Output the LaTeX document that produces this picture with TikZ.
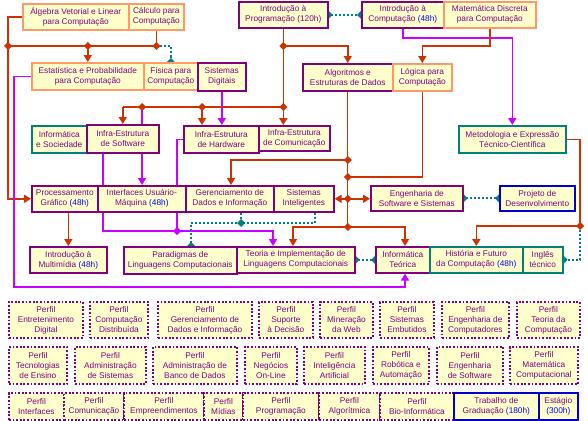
\documentclass[tikz,border=0pt]{standalone}
\usepackage{fontspec}
\setmainfont{Liberation Sans}
\usetikzlibrary{arrows.meta}
\definecolor{fillc}{HTML}{FFFFCC}
\definecolor{pur}{HTML}{800080}
\definecolor{ora}{HTML}{FF9966}
\definecolor{tea}{HTML}{008080}
\definecolor{blu}{HTML}{0000CC}
\definecolor{rdc}{HTML}{CC3300}
\definecolor{mgc}{HTML}{CC00FF}
\definecolor{hblue}{HTML}{0000FF}
\pgfdeclarelayer{bg}\pgfsetlayers{bg,main}
\newcommand\bx[7]{\node[#6,anchor=north west,minimum width={#4-#2},minimum height={#5-#3}] (#1) at (#2,#3) {#7};}
\newcommand\hh[1]{\textcolor{hblue}{#1}}
\newcommand\jd[2]{\fill[#1] #2 +(0,-4) -- +(4,0) -- +(0,4) -- +(-4,0) -- cycle;}
\begin{document}
\begin{tikzpicture}[x=1pt,y=-1pt,
  font=\fontsize{8.3}{10}\selectfont,
  box/.style={draw,fill=fillc,line width=1.6pt,inner sep=0pt,align=center,text=pur},
  pb/.style={box,draw=pur},
  ob/.style={box,draw=ora},
  tb/.style={box,draw=tea},
  bb/.style={box,draw=blu},
  db/.style={box,draw=pur,line width=1.8pt,dash pattern=on 1.8pt off 1.8pt},
  rd/.style={draw=rdc,line width=1.6pt},
  rdt/.style={draw=rdc,line width=1pt},
  mg/.style={draw=mgc,line width=1.6pt},
  tl/.style={draw=tea,line width=2pt,dash pattern=on 2pt off 2pt},
  ar/.style={-{Triangle[width=8pt,length=7pt]}},
  tip/.style={-{Turned Square[width=8pt,length=8pt]},shorten >=-4pt},
  dd/.style={{Turned Square[width=8pt,length=8pt]}-{Turned Square[width=8pt,length=8pt]},shorten >=-4pt,shorten <=-4pt}]
\useasboundingbox (0,0) rectangle (588,420);
% top row
\bx{alg}{22}{3}{128}{29}{ob}{Álgebra Vetorial e Linear\\para Computação}
\bx{calc}{128}{3}{183}{29}{ob}{Cálculo para\\Computação}
\bx{iprog}{238}{1}{327}{27}{pb}{Introdução à\\Programação (120h)}
\bx{icomp}{361}{1}{443}{27}{pb}{Introdução à\\Computação \hh{(48h)}}
\bx{mdisc}{443}{1}{535}{27}{ob}{Matemática Discreta\\para Computação}
% row 2
\bx{estat}{31}{62}{143}{89}{ob}{Estatística e Probabilidade\\para Computação}
\bx{fis}{143}{62}{197}{89}{ob}{Física para\\Computação}
\bx{sdig}{197}{62}{245}{90}{pb}{Sistemas\\Digitais}
\bx{algo}{302}{63}{392}{90}{pb}{Algoritmos e\\Estruturas de Dados}
\bx{logi}{392}{63}{451}{90}{ob}{Lógica para\\Computação}
% row 3
\bx{isoc}{31}{125}{86}{152}{tb}{Informática\\e Sociedade}
\bx{isw}{86}{124}{158}{152}{pb}{Infra-Estrutura\\de Software}
\bx{ihw}{183}{125}{258}{152}{pb}{Infra-Estrutura\\de Hardware}
\bx{icom}{258}{125}{329}{150}{pb}{Infra-Estrutura\\de Comunicação}
\bx{meto}{458}{125}{565}{152}{tb}{Metodologia e Expressão\\Técnico-Científica}
% row 4
\bx{pgraf}{31}{185}{97}{211}{pb}{Processamento\\Gráfico \hh{(48h)}}
\bx{iface}{97}{185}{185}{211}{pb}{Interfaces Usuário-\\Máquina \hh{(48h)}}
\bx{gdados}{185}{185}{273}{211}{pb}{Gerenciamento de\\Dados e Informação}
\bx{sint}{273}{185}{333}{211}{pb}{Sistemas\\Inteligentes}
\bx{engsw}{370}{185}{462}{210}{pb}{Engenharia de\\Software e Sistemas}
\bx{proj}{499}{185}{574}{210}{bb}{Projeto de\\Desenvolvimento}
% row 5
\bx{mult}{29}{246}{106}{272}{pb}{Introdução à\\Multimídia \hh{(48h)}}
\bx{parad}{123}{246}{236}{273}{pb}{Paradigmas de\\Linguagens Computacionais}
\bx{teoria}{236}{246}{354}{272}{pb}{Teoria e Implementação de\\Linguagens Computacionais}
\bx{infteo}{375}{246}{429}{272}{pb}{Informática\\Teórica}
\bx{hist}{429}{246}{522}{272}{tb}{História e Futuro\\da Computação \hh{(48h)}}
\bx{ingl}{522}{246}{562}{272}{tb}{Inglês\\técnico}
% profiles row A
\bx{pent}{8}{301}{82}{337}{db}{Perfil\\Entretenimento\\Digital}
\bx{pcd}{89}{301}{147}{337}{db}{Perfil\\Computação\\Distribuída}
\bx{pgd}{157}{301}{251}{337}{db}{Perfil\\Gerenciamento de\\Dados e Informação}
\bx{psup}{258}{301}{312}{337}{db}{Perfil\\Suporte\\à Decisão}
\bx{pmin}{319}{301}{372}{337}{db}{Perfil\\Mineração\\da Web}
\bx{pemb}{379}{301}{433}{337}{db}{Perfil\\Sistemas\\Embutidos}
\bx{pec}{441}{301}{508}{337}{db}{Perfil\\Engenharia de\\Computadores}
\bx{ptc}{516}{301}{579}{337}{db}{Perfil\\Teoria da\\Computação}
% profiles row B
\bx{pten}{8}{346}{66}{383}{db}{Perfil\\Tecnologias\\de Ensino}
\bx{pads}{74}{346}{145}{383}{db}{Perfil\\Administração\\de Sistemas}
\bx{pabd}{152}{346}{236}{383}{db}{Perfil\\Administração de\\Banco de Dados}
\bx{pneg}{244}{346}{296}{383}{db}{Perfil\\Negócios\\On-Line}
\bx{pia}{303}{346}{364}{383}{db}{Perfil\\Inteligência\\Artificial}
\bx{prob}{372}{346}{428}{383}{db}{Perfil\\Robótica e\\Automação}
\bx{pes}{436}{346}{502}{383}{db}{Perfil\\Engenharia\\de Software}
\bx{pmc}{509}{346}{577}{383}{db}{Perfil\\Matemática\\Computacional}
% profiles row C
\bx{pint}{8}{392}{63}{419}{db}{Perfil\\Interfaces}
\bx{pcom}{63}{392}{123}{419}{db}{Perfil\\Comunicação}
\bx{pemp}{123}{392}{203}{419}{db}{Perfil\\Empreendimentos}
\bx{pmid}{203}{392}{242}{419}{db}{Perfil\\Mídias}
\bx{pprog}{242}{392}{318}{419}{db}{Perfil\\Programação}
\bx{palg}{318}{392}{379}{419}{db}{Perfil\\Algorítmica}
\bx{pbio}{379}{392}{453}{419}{db}{Perfil\\Bio-Informática}
\bx{tg}{453}{392}{538}{419}{bb}{Trabalho de\\Graduação \hh{(180h)}}
\bx{est}{538}{392}{577}{419}{bb}{Estágio\\\hh{(300h)}}
\begin{pgfonlayer}{bg}
% red from Algebra / Calculo
\draw[rd,ar] (alg.west) -- (8,0 |- alg.west) |- (pgraf.west);
\draw[rd] (calc.south) -- (calc.south |- 0,46) -- (8,46);
\draw[rd,ar] (estat.north |- 0,46) -- (estat.north);
\draw[tl,tip] (calc.south |- 0,46) -| (fis.north);
\jd{rdc}{(8,46)}
\jd{rdc}{(estat.north |- 0,46)}
\jd{rdc}{(calc.south |- 0,46)}
% red from Introducao a Programacao
\draw[rd,ar] (iprog.south) -- (iprog.south |- icom.north);
\draw[rd,ar] (iprog.south |- 0,46) -| (algo.north);
\draw[rd] (iprog.south |- 0,107) -- (isw.north |- 0,107);
\draw[rd,ar] (isw.north |- 0,107) -- (isw.north);
\draw[rd,ar] (202,107) -- (202,0 |- ihw.north);
\jd{rdc}{(iprog.south |- 0,46)}
\jd{rdc}{(iprog.south |- 0,107)}
\jd{rdc}{(202,107)}
% magenta
\draw[mg,ar] (sdig.south) -- (sdig.south |- ihw.north);
\draw[mg,ar] (142,107) -- (142,0 |- iface.north);
\jd{rdc}{(142,107)}
\draw[mg,ar] (103,0 |- isw.south) -- (103,231) -- (273,231) -- (273,0 |- teoria.north);
\draw[mg] (ihw.west) -- (177,0 |- ihw.west) -- (177,231);
\jd{mgc}{(177,231)}
\draw[mg,ar] (estat.west) -- (14,0 |- estat.west) -- (14,287) -- (405,287) -- (405,0 |- infteo.south);
\draw[mg,ar] (icomp.south) -- (icomp.south |- 0,38) -| (meto.north);
% red from Matematica Discreta
\draw[rd,ar] (mdisc.south) -- (mdisc.south |- 0,46) -| (logi.north);
% red from Algoritmos and Logica
\draw[rdt] (algo.south) -- (algo.south |- 0,227);
\draw[rd,ar] (algo.south |- 0,160) -| (231,0 |- gdados.north);
\draw[rd] (logi.south) -- (logi.south |- 0,177) -- (algo.south |- 0,177);
\draw[rd,ar] (algo.south |- sint.east) -- (sint.east);
\draw[rd,ar] (algo.south |- sint.east) -- (engsw.west |- sint.east);
\draw[rd,ar] (algo.south |- 0,227) -| (293,0 |- teoria.north);
\draw[rd,ar] (algo.south |- 0,227) -| (405,0 |- infteo.north);
\jd{rdc}{(algo.south |- 0,160)}
\jd{rdc}{(algo.south |- 0,177)}
\jd{rdc}{(algo.south |- sint.east)}
\jd{rdc}{(algo.south |- 0,227)}
% red Processamento -> Multimidia
\draw[rd,ar] (mult.north |- pgraf.south) -- (mult.north);
% red from Metodologia
\draw[rd,ar] (meto.east) -- (580,0 |- meto.east) -- (580,226) -| (hist.north);
\draw[tl,tip] (580,226) -- (580,0 |- ingl.east) -- (ingl.east);
\jd{rdc}{(580,226)}
% teal dotted links
\draw[tl,dd] (iprog.east) -- (icomp.west);
\draw[tl,dd] (engsw.east) -- (proj.west);
\draw[tl,dd] (teoria.east) -- (infteo.west);
\draw[tl] (241,0 |- gdados.south) -- (241,223);
\draw[tl,tip] (315,0 |- sint.south) -- (315,223) -- (191,223) -- (191,0 |- parad.north);
\jd{tea}{(241,223)}
\end{pgfonlayer}
\end{tikzpicture}
\end{document}
